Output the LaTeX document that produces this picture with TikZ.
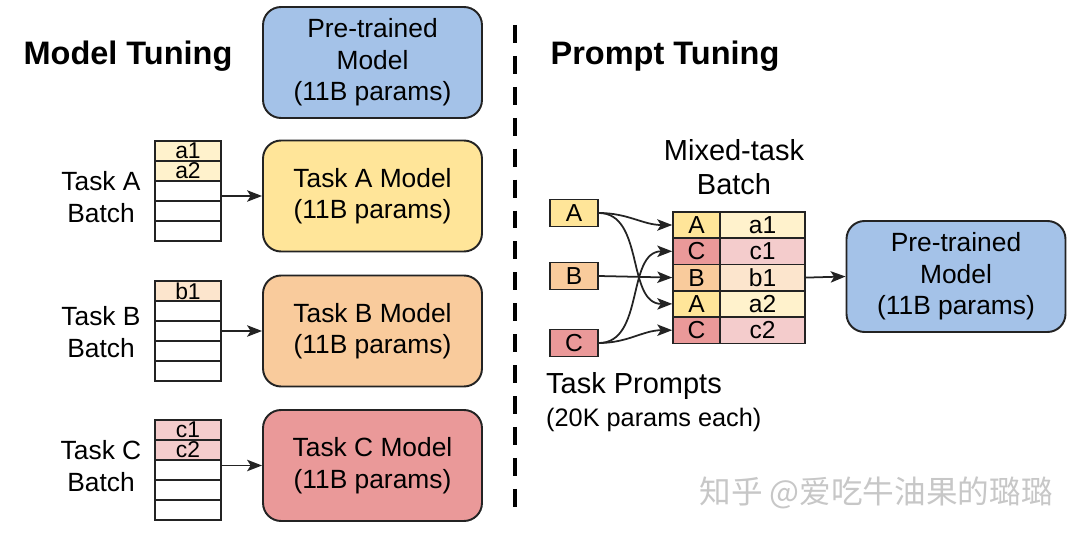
\documentclass[tikz,border=0pt]{standalone}
\usepackage{fontspec}
\setmainfont{Liberation Sans}
\newfontfamily\cjkfont{Noto Sans CJK SC}
\usetikzlibrary{arrows.meta}

\definecolor{ptblue}{RGB}{164,194,232}
\definecolor{tyellow}{RGB}{255,229,153}
\definecolor{torange}{RGB}{249,203,156}
\definecolor{tred}{RGB}{234,153,153}
\definecolor{lyellow}{RGB}{255,242,204}
\definecolor{lorange}{RGB}{252,229,205}
\definecolor{lred}{RGB}{244,204,204}
\definecolor{edge}{RGB}{35,35,35}

\tikzset{
  model/.style={draw=edge, line width=1.1pt, rounded corners=0.36cm, minimum width=4.38cm,
    minimum height=2.22cm, align=center, font=\fontsize{15}{18}\selectfont},
  cell/.style={draw=edge, line width=0.9pt, minimum width=1.32cm, minimum height=0.4cm,
    inner sep=0pt, font=\fontsize{13}{13}\selectfont},
  mcell/.style={draw=edge, line width=0.9pt, minimum height=0.526cm, inner sep=0pt,
    font=\fontsize{14}{14}\selectfont},
  lbl/.style={align=center, font=\fontsize{15}{18}\selectfont},
  arr/.style={-{Stealth[length=8.5pt,width=6.5pt,inset=2pt]}, line width=1pt, draw=edge},
}

\begin{document}
\begin{tikzpicture}[x=0.02cm, y=-0.02cm]
  \useasboundingbox (0,0) rectangle (1080,537);

  % titles and divider
  \node[font=\bfseries\fontsize{18.5}{22}\selectfont] (mtitle) at (128,56) {Model Tuning};
  \node[font=\bfseries\fontsize{18.5}{22}\selectfont] (ptitle) at (665,56) {Prompt Tuning};
  \draw[line width=2.8pt, dash pattern=on 10.2pt off 7.4pt] (515,25) -- (515,515);

  % model tuning
  \node[model, fill=ptblue] (pre) at (372.5,62.5) {Pre-trained\\Model\\(11B params)};
  \node[model, fill=tyellow] (modA) at (372.5,196) {Task A Model\\(11B params)};
  \node[model, fill=torange] (modB) at (372.5,331) {Task B Model\\(11B params)};
  \node[model, fill=tred] (modC) at (372.5,465.5) {Task C Model\\(11B params)};

  \node[lbl] (labA) at (101,197) {Task A\\Batch};
  \node[lbl] (labB) at (101,332) {Task B\\Batch};
  \node[lbl] (labC) at (101,466) {Task C\\Batch};

  \node[cell, fill=lyellow] (a1) at (188,151) {a1};
  \node[cell, fill=lyellow] (a2) at (188,171) {a2};
  \foreach \i in {0,1,2} \node[cell] (ea\i) at (188,191+20*\i) {};
  \node[cell, fill=lorange] (b1) at (188,291) {b1};
  \foreach \i in {0,...,3} \node[cell] (eb\i) at (188,311+20*\i) {};
  \node[cell, fill=lred] (c1) at (188,430) {c1};
  \node[cell, fill=lred] (c2) at (188,450) {c2};
  \foreach \i in {0,1,2} \node[cell] (ec\i) at (188,470+20*\i) {};

  \coordinate (outA) at (221,196);
  \coordinate (outB) at (221,331);
  \coordinate (outC) at (221,465.5);
  \draw[arr] (outA) -- (modA.west);
  \draw[arr] (outB) -- (modB.west);
  \draw[arr] (outC) -- (modC.west);

  % prompt tuning
  \node[mcell, fill=tyellow, minimum width=0.96cm, minimum height=0.54cm] (pA) at (574,213) {A};
  \node[mcell, fill=torange, minimum width=0.96cm, minimum height=0.54cm] (pB) at (574,276) {B};
  \node[mcell, fill=tred, minimum width=0.96cm, minimum height=0.54cm] (pC) at (574,343) {C};

  \node[align=center, font=\fontsize{16.5}{19.5}\selectfont] (mixlab) at (734,167) {Mixed-task\\Batch};
  \foreach \t/\v/\c/\l [count=\r from 0] in
      {A/a1/tyellow/lyellow, C/c1/tred/lred, B/b1/torange/lorange, A/a2/tyellow/lyellow, C/c2/tred/lred}{
    \node[mcell, fill=\c, minimum width=0.94cm] (mk\r) at (696.5,225+26.3*\r) {\t};
    \node[mcell, fill=\l, minimum width=1.7cm] (mv\r) at (762.5,225+26.3*\r) {\v};
  }

  \draw[arr] (pA.east) to[out=0, in=180] (mk0.west);
  \draw[arr] (pA.east) to[out=0, in=180] (mk3.west);
  \draw[arr] (pB.east) -- (mk2.west);
  \draw[arr] (pC.east) to[out=0, in=180] (mk1.west);
  \draw[arr] (pC.east) to[out=0, in=180] (mk4.west);

  \node[model, fill=ptblue] (pre2) at (956,276.5) {Pre-trained\\Model\\(11B params)};
  \draw[arr] (mv2.east) -- (pre2.west);

  \node[anchor=west, font=\fontsize{16.5}{19.5}\selectfont] (tplab) at (540,386) {Task Prompts};
  \node[anchor=west, font=\fontsize{14.4}{17}\selectfont] (tpsub) at (540,420) {(20K params each)};

  % watermark
  \node[font=\cjkfont\fontsize{18}{20}\selectfont, text=black!22] (wm) at (876,493) {知乎 @爱吃牛油果的璐璐};
\end{tikzpicture}
\end{document}
